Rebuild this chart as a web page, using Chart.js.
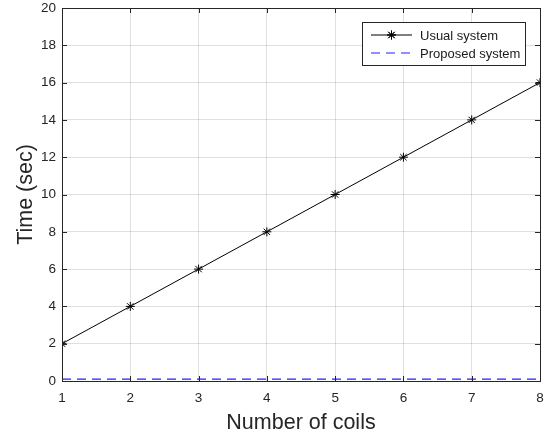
<!DOCTYPE html>
<html>
<head>
<meta charset="utf-8">
<script src="https://cdn.jsdelivr.net/npm/chart.js@4"></script>
<style>
  body { margin: 0; background: #fff; }
  #wrap { width: 550px; height: 437px; }
</style>
</head>
<body>
<div id="wrap"><canvas id="grafico" width="550" height="437"></canvas></div>
<script>
// Dados
const numCoils = [1, 2, 3, 4, 5, 6, 7, 8];
const usualTime = [2, 4, 6, 8, 10, 12, 14, 16];
const proposedTime = [0.1, 0.1, 0.1, 0.1, 0.1, 0.1, 0.1, 0.1];
const yTicks = [0, 2, 4, 6, 8, 10, 12, 14, 16, 18, 20];

const corEixo = '#262626';
const fonte = 'Liberation Sans, Arial, Helvetica, sans-serif';

// Caixa em volta do gráfico + marcas de tick para dentro (estilo MATLAB)
const caixaPlugin = {
    id: 'caixa',
    afterDatasetsDraw(chart) {
        const { ctx, chartArea: a, scales } = chart;
        ctx.save();
        ctx.strokeStyle = corEixo;
        ctx.lineWidth = 1;
        ctx.beginPath();
        scales.x.ticks.forEach(t => {
            const px = Math.round(scales.x.getPixelForValue(t.value)) + 0.5;
            ctx.moveTo(px, a.bottom); ctx.lineTo(px, a.bottom - 5);
            ctx.moveTo(px, a.top); ctx.lineTo(px, a.top + 5);
        });
        scales.y.ticks.forEach(t => {
            const py = Math.round(scales.y.getPixelForValue(t.value)) + 0.5;
            ctx.moveTo(a.left, py); ctx.lineTo(a.left + 5, py);
            ctx.moveTo(a.right, py); ctx.lineTo(a.right - 5, py);
        });
        ctx.stroke();
        ctx.strokeRect(Math.round(a.left) + 0.5, Math.round(a.top) + 0.5,
            Math.round(a.right - a.left), Math.round(a.bottom - a.top));
        ctx.restore();
    }
};

// Legenda desenhada dentro da área do gráfico (canto superior direito)
const legendaPlugin = {
    id: 'legendaInterna',
    afterDraw(chart) {
        const { ctx, chartArea: a } = chart;
        const sets = chart.data.datasets;
        const w = 163, h = 43;
        const x0 = a.right - 15 - w;
        const y0 = a.top + 14;
        ctx.save();
        ctx.fillStyle = '#fff';
        ctx.fillRect(x0, y0, w, h);
        ctx.strokeStyle = corEixo;
        ctx.lineWidth = 1;
        ctx.strokeRect(Math.round(x0) + 0.5, Math.round(y0) + 0.5, w, h);
        ctx.font = '13px ' + fonte;
        ctx.textBaseline = 'middle';
        sets.forEach((ds, i) => {
            const yy = y0 + 13 + i * 18;
            ctx.strokeStyle = ds.borderColor;
            ctx.lineWidth = ds.borderWidth;
            ctx.setLineDash(ds.borderDash || []);
            ctx.beginPath();
            ctx.moveTo(x0 + 9, yy);
            ctx.lineTo(x0 + 50, yy);
            ctx.stroke();
            ctx.setLineDash([]);
            if (ds.pointStyle === 'star') {
                Chart.helpers.drawPoint(ctx, { pointStyle: 'star', radius: ds.pointRadius, borderWidth: 1 }, x0 + 29.5, yy);
                ctx.strokeStyle = ds.borderColor;
                ctx.stroke();
            }
            ctx.fillStyle = '#1a1a1a';
            ctx.fillText(ds.label, x0 + 58, yy + 1);
        });
        ctx.restore();
    }
};

const ctx = document.getElementById('grafico').getContext('2d');
new Chart(ctx, {
    type: 'line',
    data: {
        datasets: [
            {
                label: 'Usual system',
                data: numCoils.map((c, i) => ({ x: c, y: usualTime[i] })),
                borderColor: '#000',
                backgroundColor: '#000',
                borderWidth: 1,
                pointStyle: 'star',
                pointRadius: 4.5,
                pointBorderWidth: 1,
                pointBorderColor: '#000',
                tension: 0
            },
            {
                label: 'Proposed system',
                data: numCoils.map((c, i) => ({ x: c, y: proposedTime[i] })),
                borderColor: '#2020ff',
                borderWidth: 1.2,
                borderDash: [9, 6],
                pointRadius: 0,
                tension: 0
            }
        ]
    },
    options: {
        responsive: false,
        animation: false,
        events: [],
        layout: { padding: { top: 8, right: 10, left: 0, bottom: 0 } },
        plugins: {
            legend: { display: false },
            tooltip: { enabled: false }
        },
        scales: {
            x: {
                type: 'linear',
                min: 1,
                max: 8,
                afterFit(scale) {
                    scale.height = 56;
                    scale.paddingLeft = 0;
                    scale.paddingRight = 0;
                },
                afterBuildTicks(scale) { scale.ticks = numCoils.map(v => ({ value: v })); },
                grid: { color: 'rgba(0,0,0,0.12)', drawTicks: false },
                border: { display: false },
                ticks: { color: corEixo, padding: 9, font: { family: fonte, size: 13.5 } },
                title: {
                    display: true,
                    text: 'Number of coils',
                    color: corEixo,
                    font: { family: fonte, size: 21.5 },
                    padding: { top: 0, bottom: 1 }
                }
            },
            y: {
                min: 0,
                max: 20,
                afterFit(scale) {
                    scale.width = 62;
                    scale.paddingTop = 0;
                    scale.paddingBottom = 0;
                },
                afterBuildTicks(scale) { scale.ticks = yTicks.map(v => ({ value: v })); },
                grid: { color: 'rgba(0,0,0,0.12)', drawTicks: false },
                border: { display: false },
                ticks: { color: corEixo, padding: 6, font: { family: fonte, size: 13.5 } },
                title: {
                    display: true,
                    text: 'Time (sec)',
                    color: corEixo,
                    font: { family: fonte, size: 21.5 },
                    padding: { top: 13, bottom: 0 }
                }
            }
        }
    },
    plugins: [caixaPlugin, legendaPlugin]
});
</script>
</body>
</html>
